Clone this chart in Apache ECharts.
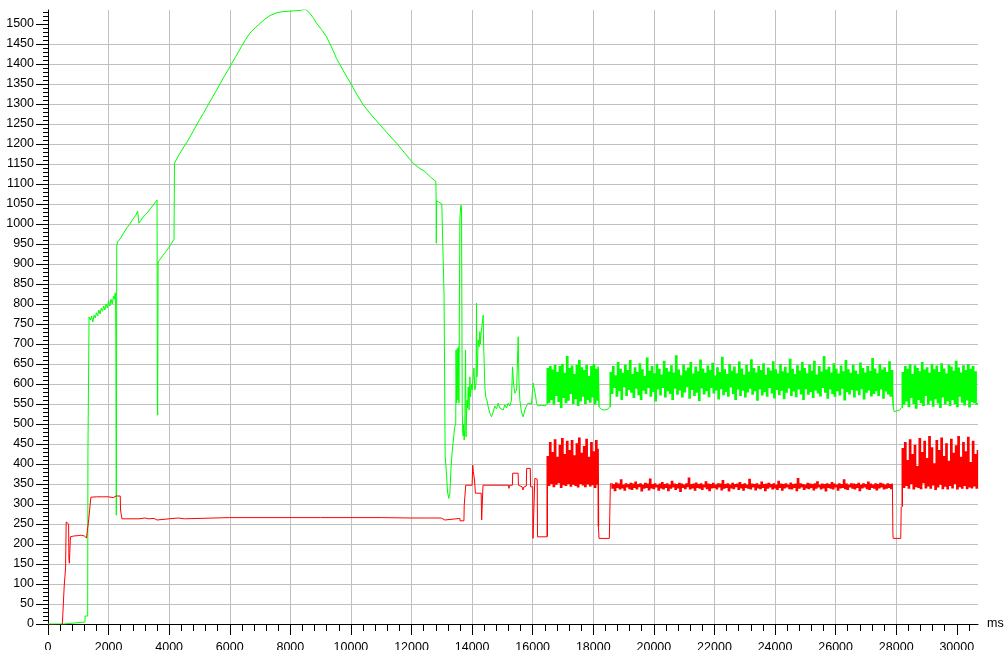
<!DOCTYPE html>
<html><head><meta charset="utf-8">
<script src="https://cdn.jsdelivr.net/npm/echarts@6/dist/echarts.min.js"></script>
<style>html,body{margin:0;padding:0;background:#fff}#c{width:1005px;height:650px}</style>
</head><body><div id="c"></div>
<script>
// ---- tick labels ----
const xTickLabels = [0,2000,4000,6000,8000,10000,12000,14000,16000,18000,20000,22000,24000,26000,28000,30000];
const yTickLabels = [0,50,100,150,200,250,300,350,400,450,500,550,600,650,700,750,800,850,900,950,1000,1050,1100,1150,1200,1250,1300,1350,1400,1450,1500];
const xMax = 30700, yMax = 1535;

// ---- green series: [ms, value] breakpoints ----
const greenHead = [[0,0],[520,0],[528,5],[1220,5],[1225,20],[1310,20],[1318,425],[1345,425],[1355,768],
[1400,760],[1440,770],[1480,755],[1520,772],[1560,765],[1600,778],[1640,770],[1680,785],[1720,775],[1760,790],[1800,782],[1840,795],[1880,785],[1920,800],[1960,790],[2000,808],[2040,795],[2080,812],[2120,800],[2160,820],[2190,812],[2220,828],[2230,818],[2240,712],[2255,272],[2270,947],
[2300,955],[2400,965],[2500,978],[2600,990],[2700,1000],[2800,1012],[2900,1022],[2960,1032],[3000,1002],[3050,1005],[3150,1018],[3300,1030],[3450,1045],[3600,1060],[3612,545],[3620,522],[3635,905],[3700,910],[3800,922],[3900,932],[4000,942],[4100,955],[4160,962],[4175,1152],
[4300,1170],[4464,1190],[4630,1210],[4794,1232],[4960,1255],[5124,1276],[5340,1305],[5566,1335],[5780,1364],[6004,1393],[6200,1419],[6390,1444],[6530,1462],[6664,1477],[6830,1490],[6994,1501],[7160,1512],[7324,1521],[7545,1528],[7760,1531],[7984,1532],[8150,1533],[8314,1534],[8479,1537],[8560,1533],[8644,1527],[8750,1516],[8865,1502],[9030,1486],[9195,1468],[9360,1442],[9525,1414],[9770,1380],[10020,1348],[10210,1322],[10405,1298],[10680,1272],[10956,1248],[11230,1225],[11507,1202],[11780,1177],[12055,1152],[12250,1140],[12441,1131],[12620,1118],[12804,1106],
[12812,1060],[12818,952],[12828,1058],[12900,1055],[13000,1050],[13060,1045],[13075,818],[13110,420],[13150,380],[13190,330],[13230,314],[13266,325],[13300,385],[13340,430],[13376,455],[13420,490],[13460,502],[13470,685],[13490,552],[13510,689],[13530,560],[13550,693],[13565,552],[13596,1014],[13629,1047],[13650,1040],[13662,802],[13675,535],[13690,480],[13706,470],[13720,500],[13739,460],[13760,490],[13784,685],[13800,468],[13815,520],[13830,560],[13850,540],[13871,593],[13900,535],[13926,618],[13950,568],[13981,600],[14000,585],[14036,590],[14060,640],[14091,585],[14130,600],[14146,802],[14160,618],[14180,650],[14201,710],[14230,693],[14256,731],[14270,700],[14290,722],[14330,727],[14366,772],[14380,700],[14400,650],[14421,593],[14450,568],[14487,560],[14540,540],[14586,527],[14640,518],[14696,530],[14750,545],[14806,538],[14860,552],[14916,540],[14970,545],[15026,535],[15080,548],[15136,540],[15190,552],[15246,545],[15300,560],[15334,643],[15370,600],[15411,577],[15470,585],[15521,718],[15545,610],[15576,560],[15630,530],[15686,518],[15740,535],[15796,545],[15850,552],[15906,548],[15960,550],[16016,602],[16060,585],[16100,568],[16126,552],[16180,545],[16236,542],[16300,547],[16346,543],[16420,545],[16456,550]];
const greenNoise1 = [640,552,645,560,636,548,648,570,630,555,645,540,650,565,628,552,670,558,640,575,646,550,625,562,648,545,660,556,642,568,635,550,648,560,620,553,645,566,650,548,638,558,644];
const greenGap1 = [[18190,543],[18230,540],[18280,536],[18330,541],[18380,535],[18430,539],[18480,537],[18530,542]];
const greenNoise2 = [630,575,645,590,622,568,655,582,638,560,628,592,648,570,635,585,660,578,625,565,
642,588,630,572,652,560,637,583,620,575,666,590,633,568,645,580,627,556,650,586,
638,571,624,590,658,566,640,582,631,575,647,560,629,588,672,573,636,584,622,566,
649,579,634,592,641,563,655,585,626,570,644,578,632,557,661,589,639,574,628,582,
646,567,635,590,653,576,621,584,642,561,630,587,668,572,637,580,625,568,650,591,
633,575,644,560,627,586,656,570,639,583,624,566,648,579,631,588,662,573,640,582,
629,558,645,586,635,571,652,580,623,568,641,590,634,576,657,564,637,585,626,572,
650,583,632,562,643,578,628,589,663,570,638,581,625,567,647,586,634,574,655,560,
640,587,627,573,649,580,633,565,658,584,624,576,645,569,631,590,670,578,636,563,
643,586,629,575,652,568,638,582,626,571,646,588,632,559,660,580,637,574,628,585,
648,566,634,583,625,572,654,587,640,561,629,578,645,584,633,569,665,575,639,582,
627,570,650,586,636,563,642,581,630,574,657,568,635,589];
const greenGap2 = [[27900,545],[27930,531],[27970,528],[28020,533],[28070,530],[28120,535],[28160,540]];
const greenNoise3 = [630,548,645,556,638,542,650,565,625,550,647,538,640,560,632,552,655,545,636,570,
642,548,628,558,650,543,637,562,646,551,630,540,652,566,639,549,626,557,648,545,
644,560,633,550,658,542,641,568,629,553,647,546,635,559,650,541,638,555,645,552,
632,548,552];

// ---- red series ----
const redHead = [[0,-3],[60,-5],[120,-2],[180,-6],[260,-3],[330,-6],[400,-4],[470,-6],[528,-4],[535,95],[570,97],[580,140],[595,140],[600,255],[650,252],[680,250],[690,165],[705,152],[720,178],[740,218],[850,220],[900,222],[1000,221],[1100,222],[1200,220],[1270,215],[1335,212],[1345,262],[1405,262],[1415,317],[1600,318],[1800,318],[2000,318],[2150,316],[2200,313],[2250,320],[2385,320],[2395,285],[2430,285],[2440,263],[3000,263],[3200,265],[3300,263],[3500,264],[3600,260],[3650,263],[4000,263],[4300,265],[4500,263],[6000,266],[9000,266],[11000,266],[12000,265],[12500,265],[12985,265],[12990,260],[13100,260],[13110,263],[13596,264],[13600,258],[13730,258],[13740,297],[13770,297],[13790,347],[14000,347],[14020,397],[14040,381],[14080,360],[14110,327],[14300,327],[14315,260],[14340,262],[14360,347],[15200,347],[15215,339],[15240,347],[15330,347],[15340,377],[15520,377],[15530,347],[15560,342],[15650,343],[15680,335],[15700,342],[15790,345],[15800,389],[15920,389],[15930,343],[16000,343],[16010,214],[16060,214],[16070,364],[16150,362],[16160,218],[16470,218]];
const redNoise1 = [420,345,455,350,430,342,462,348,418,352,448,340,465,347,425,345,458,350,435,343,
460,348,422,345,452,341,466,350,428,346,445,342,463,349,418,344,455,347,432,340,
460,348,438];
const redGap1 = [[18170,243],[18190,214],[18530,214],[18545,272],[18565,352]];
const redNoise2 = [352,338,350,332,354,340,351,336,362,339,349,333,352,341,350,337,353,335,351,340,
356,336,350,342,352,331,349,338,353,340,351,334,364,339,350,337,352,341,348,333,
351,339,355,336,350,340,352,332,349,338,358,341,351,335,350,339,353,330,351,340,
349,337,352,342,366,336,350,339,351,333,354,340,350,338,352,335,349,341,357,337,
351,332,350,339,353,340,349,336,352,341,351,334,360,338,350,340,352,331,349,339,
353,337,350,342,351,335,355,339,350,333,352,340,349,338,363,336,351,341,350,334,
352,339,349,337,356,340,350,332,351,338,353,341,350,336,352,339,349,335,358,340,
351,333,350,339,352,341,349,337,354,336,350,340,351,332,365,338,352,341,350,335,
349,339,353,337,351,340,350,334,352,338,357,341,349,336,351,339,350,331,352,340,
350,338,355,336,351,341,349,333,352,339,350,340,362,337,351,335,349,341,352,338,
351,336,350,340,353,332,349,339,352,341,350,337,356,335,351,340,349,338,352,334,
350,339,353,341,351,336,349,338,352,340,350,337,351];
const redGap2 = [[27875,347],[27890,227],[27900,214],[28150,214],[28165,293]];
const redNoise3 = [440,340,455,345,410,338,462,350,425,336,448,342,395,340,465,337,430,352,458,339,
415,344,470,338,442,346,402,335,460,341,435,348,466,337,420,343,452,336,408,345,
463,339,428,350,447,336,470,342,418,338,455,345,432,337,468,341,405,339,458,344,
425,338,435];

// sampled segments (sample-and-hold): each sample is a vertical transition at its time
const STEP = 40;
const GAP = t => [t, '-'];
function held(start, vals, prev, next){
  const out = [];
  vals.forEach((v,i)=>{
    const t = start + i*STEP;
    out.push([t, prev], [t, v], GAP(t));
    prev = v;
  });
  const tEnd = start + (vals.length-1)*STEP;
  if (next) out.push([tEnd, prev], next, GAP(next[0]));
  return out;
}
const lastV = arr => arr[arr.length-1][1];
const lastT = arr => arr[arr.length-1][0];

// smooth parts (1px line) and sampled bursts (drawn as dense sample transitions)
const greenMain = [].concat(greenHead, [GAP(lastT(greenHead))], greenGap1, [GAP(lastT(greenGap1))], greenGap2);
const greenBursts = [].concat(held(16480, greenNoise1, lastV(greenHead), greenGap1[0]),
  held(18560, greenNoise2, lastV(greenGap1), greenGap2[0]), held(28200, greenNoise3, lastV(greenGap2), null));
const redMain = [].concat(redHead, [GAP(lastT(redHead))], redGap1, [GAP(lastT(redGap1))], redGap2);
const redBursts = [].concat(held(16480, redNoise1, lastV(redHead), redGap1[0]),
  held(18580, redNoise2, lastV(redGap1), redGap2[0]), held(28200, redNoise3, lastV(redGap2), null));

const xMinor = []; for (let v = 0; v < xMax; v += 400) xMinor.push(v);
const yMinor = []; for (let v = 0; v < yMax; v += 10) yMinor.push(v);

const FONT = 'Liberation Sans, Arial, sans-serif';
const labelStyle = {color:'#000', fontSize:12.5, fontFamily:FONT};
const plain = v => String(v);
const lineBase = {type:'line', showSymbol:false, symbol:'none', sampling:null, connectNulls:false, xAxisIndex:0, yAxisIndex:0, silent:true};

const chart = echarts.init(document.getElementById('c'), null, {renderer:'canvas'});
chart.setOption({
  animation:false,
  backgroundColor:'#fff',
  grid:{left:48, right:27, top:10, bottom:26, containLabel:false, outerBoundsMode:'none'},
  xAxis:[{
    type:'value', min:0, max:xMax, interval:2000, position:'bottom',
    name:'ms', nameLocation:'end', nameGap:9, nameTextStyle:labelStyle,
    axisLine:{show:true, onZero:false, lineStyle:{color:'#000', width:1}},
    axisTick:{show:true, length:11, customValues:xTickLabels, lineStyle:{color:'#000'}},
    axisLabel:Object.assign({margin:17, customValues:xTickLabels, formatter:plain}, labelStyle),
    splitLine:{show:true, showMaxLine:false, lineStyle:{color:'#c0c0c0', width:1}},
    minorTick:{show:false}
  },{
    type:'value', min:0, max:xMax, interval:2000, position:'bottom', offset:0,
    axisLine:{show:false}, axisLabel:{show:false}, splitLine:{show:false},
    axisTick:{show:true, length:7, customValues:xMinor, lineStyle:{color:'#000'}}
  }],
  yAxis:[{
    type:'value', min:0, max:yMax, interval:50, position:'left',
    axisLine:{show:true, onZero:false, lineStyle:{color:'#000', width:1}},
    axisTick:{show:true, length:12, customValues:yTickLabels, lineStyle:{color:'#000'}},
    axisLabel:Object.assign({margin:14, customValues:yTickLabels, formatter:plain}, labelStyle),
    splitLine:{show:true, showMaxLine:false, lineStyle:{color:'#c0c0c0', width:1}},
    minorTick:{show:false}
  },{
    type:'value', min:0, max:yMax, interval:50, position:'left', offset:0,
    axisLine:{show:false}, axisLabel:{show:false}, splitLine:{show:false},
    axisTick:{show:true, length:5, customValues:yMinor, lineStyle:{color:'#000'}}
  }],
  series:[
    Object.assign({name:'green', data:greenMain, lineStyle:{color:'#00ff00', width:1}, itemStyle:{color:'#00ff00'}, z:2}, lineBase),
    Object.assign({name:'green', data:greenBursts, lineStyle:{color:'#00ff00', width:1.5}, itemStyle:{color:'#00ff00'}, z:2}, lineBase),
    Object.assign({name:'red', data:redMain, lineStyle:{color:'#ff0000', width:1}, itemStyle:{color:'#ff0000'}, z:3}, lineBase),
    Object.assign({name:'red', data:redBursts, lineStyle:{color:'#ff0000', width:1.5}, itemStyle:{color:'#ff0000'}, z:3}, lineBase)
  ]
});
</script>
</body></html>
